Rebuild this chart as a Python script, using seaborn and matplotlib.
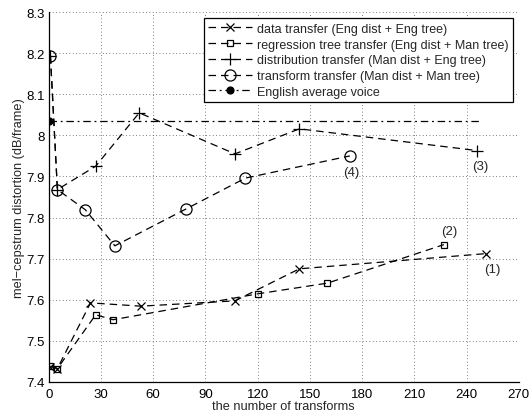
import matplotlib
matplotlib.use("Agg")
import matplotlib.pyplot as plt
import seaborn as sns
import pandas as pd
from matplotlib.ticker import MultipleLocator, AutoMinorLocator

# ---- data ----
data_x = [1, 5, 24, 53, 107, 144, 251]
data_y = [7.437, 7.432, 7.592, 7.584, 7.597, 7.675, 7.712]

reg_x = [1, 5, 27, 37, 120, 160, 227]
reg_y = [7.438, 7.432, 7.563, 7.551, 7.614, 7.640, 7.734]

dist_x = [1, 5, 27, 52, 107, 144, 246]
dist_y = [8.193, 7.868, 7.925, 8.055, 7.955, 8.016, 7.963]

trans_x = [1, 5, 21, 38, 79, 113, 173]
trans_y = [8.193, 7.868, 7.819, 7.731, 7.821, 7.896, 7.950]

eng_x = [0, 249]
eng_y = [8.036, 8.036]

labels = [
    "data transfer (Eng dist + Eng tree)",
    "regression tree transfer (Eng dist + Man tree)",
    "distribution transfer (Man dist + Eng tree)",
    "transform transfer (Man dist + Man tree)",
    "English average voice",
]
annot_text = ["(1)", "(2)", "(3)", "(4)"]
annot_x = [255, 230, 248, 173.5]
annot_y = [7.675, 7.766, 7.926, 7.910]

xticks = [0, 30, 60, 90, 120, 150, 180, 210, 240, 270]
yticks = [7.4, 7.5, 7.6, 7.7, 7.8, 7.9, 8.0, 8.1, 8.2, 8.3]
ytick_labels = ["7.4", "7.5", "7.6", "7.7", "7.8", "7.9", "8", "8.1", "8.2", "8.3"]

# ---- plot ----
sns.set_style("white")
plt.rcParams['font.family'] = ['Liberation Sans', 'DejaVu Sans']

fig = plt.figure(figsize=(5.31, 4.14), dpi=100)
ax = fig.add_axes([0.0917, 0.0756, 0.977 - 0.0917, 0.968 - 0.0756])

dash = (0, (6, 4))
common = dict(color="black", lw=0.9, sort=False, estimator=None, ax=ax,
              mec="black", mew=0.9, legend=False)

series = [
    (data_x, data_y, dict(marker="x", markersize=5.5, linestyle=dash)),
    (reg_x, reg_y, dict(marker="s", markersize=4.5, mfc="none", linestyle=dash)),
    (dist_x, dist_y, dict(marker="+", markersize=8, linestyle=dash)),
    (trans_x, trans_y, dict(marker="o", markersize=8, mfc="none", linestyle=dash)),
    (eng_x, eng_y, dict(marker="o", markersize=5, mfc="black", markevery=[0],
                        linestyle=(0, (6, 3, 1.5, 3)))),
]
handles = []
for (xs, ys, kw), lab in zip(series, labels):
    sns.lineplot(x=xs, y=ys, **common, **kw)
    ln = ax.lines[-1]
    ln.set_label(lab)
    handles.append(ln)

for t, xx, yy in zip(annot_text, annot_x, annot_y):
    ax.text(xx, yy, t, ha="center", va="center", fontsize=9.5)

ax.set_xlim(0, 270)
ax.set_ylim(7.4, 8.3)
ax.set_xticks(xticks)
ax.set_yticks(yticks)
ax.set_yticklabels(ytick_labels)
ax.xaxis.set_minor_locator(AutoMinorLocator(5))
ax.yaxis.set_minor_locator(AutoMinorLocator(5))
ax.tick_params(axis="both", which="major", direction="in", length=4, width=0.8,
               labelsize=9.5, pad=3, colors="black")
ax.tick_params(axis="x", which="major", pad=4.5)
ax.tick_params(axis="both", which="minor", direction="in", length=2, width=0.6)
ax.grid(True, which="major", linestyle=(0, (1, 3)), color="#555555", lw=0.6)
for s in ["top", "right"]:
    ax.spines[s].set_visible(False)
for s in ["left", "bottom"]:
    ax.spines[s].set_color("black")
    ax.spines[s].set_linewidth(0.9)

ax.set_xlabel("the number of transforms", fontsize=9.2, labelpad=0)
ax.set_ylabel("mel\u2212cepstrum distortion (dB/frame)", fontsize=9.2, labelpad=1)

leg = ax.legend(handles=handles, labels=labels, loc="upper right", fontsize=9,
                frameon=True, fancybox=False, edgecolor="black", framealpha=1,
                borderpad=0.35, labelspacing=0.3, handlelength=3.5,
                handletextpad=0.4, borderaxespad=0.5)
leg.get_frame().set_linewidth(0.9)

fig.savefig("out.png", dpi=100)
